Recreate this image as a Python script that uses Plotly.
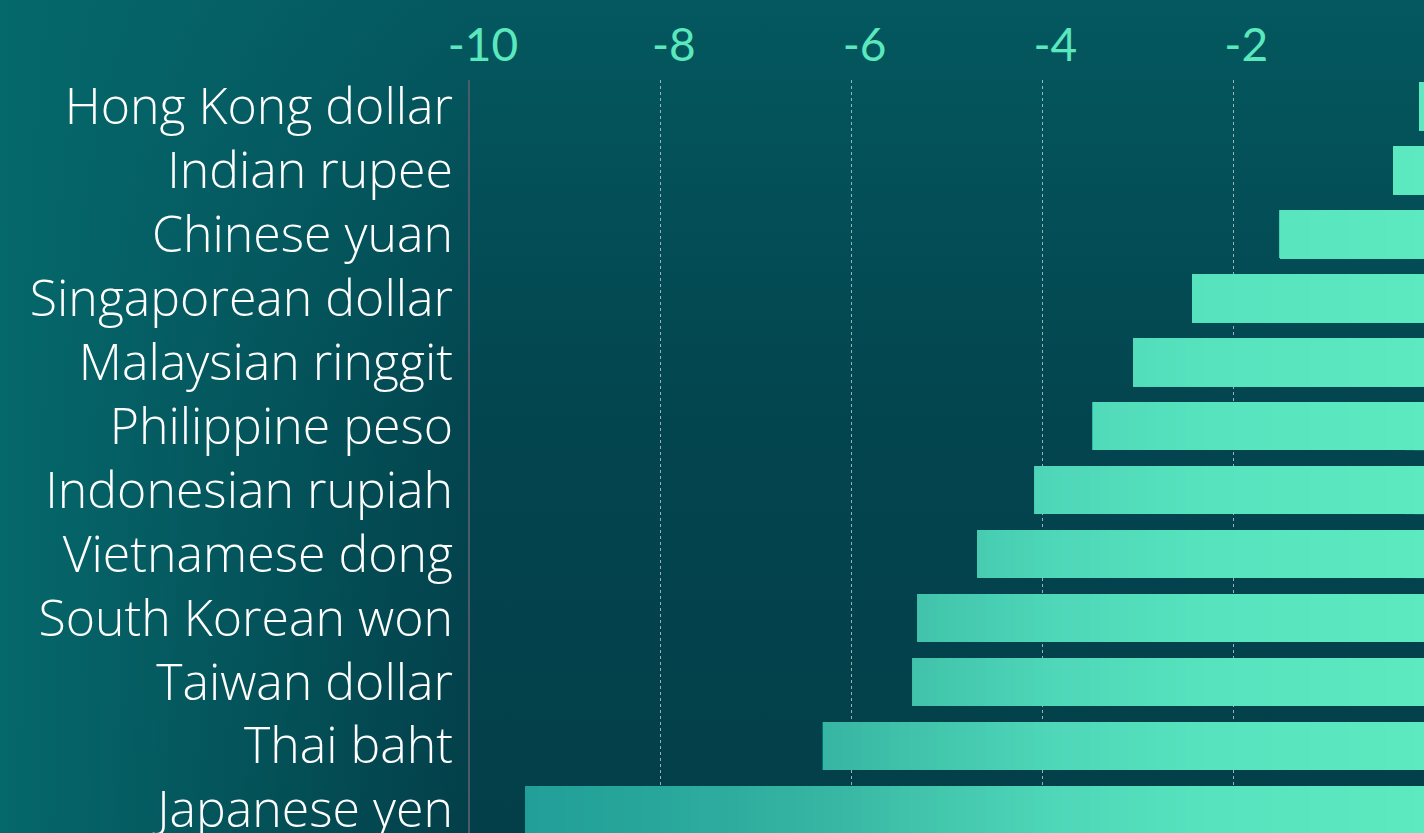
import base64
import plotly.graph_objects as go

# ---- data ----
currencies = ["Hong Kong dollar", "Indian rupee", "Chinese yuan", "Singaporean dollar",
              "Malaysian ringgit", "Philippine peso", "Indonesian rupiah", "Vietnamese dong",
              "South Korean won", "Taiwan dollar", "Thai baht", "Japanese yen"]
change_pct = [-0.05, -0.32, -1.51, -2.43, -3.05, -3.47, -4.08, -4.68, -5.31, -5.36, -6.30, -9.42]
tick_values = [-10, -8, -6, -4, -2]
tick_labels = ["-10", "-8", "-6", "-4", "-2"]

# ---- style ----
W, H = 1424, 833
ML, MR, MT, MB = 470, 0, 80, 0
PW, PH = W - ML - MR, H - MT - MB

# gradient colour stops by x position (value -> colour)
stops = [(-10.0, (30, 156, 151)), (-8.0, (40, 167, 156)), (-6.3, (55, 182, 163)),
         (-5.0, (68, 200, 174)), (-4.0, (78, 214, 184)), (-2.5, (86, 226, 189)),
         (0.0, (93, 234, 192))]


def colour_at(v):
    for (a, ca), (b, cb) in zip(stops[:-1], stops[1:]):
        if a <= v <= b:
            f = (v - a) / (b - a)
            c = [round(ca[i] + f * (cb[i] - ca[i])) for i in range(3)]
            return f"rgb({c[0]},{c[1]},{c[2]})"
    return "rgb(93,234,192)"


fig = go.Figure()
n_steps = 100
for k in range(n_steps):
    t = 10 - k * 10 / n_steps  # bar left edge limited to -t
    xs = [max(v, -t) for v in change_pct]
    fig.add_trace(go.Bar(
        y=currencies, x=xs, orientation="h",
        marker=dict(color=colour_at(-t), line=dict(width=0)),
        showlegend=False, hoverinfo="skip",
    ))

# background gradient as an inline svg
svg = f'''<svg xmlns="http://www.w3.org/2000/svg" width="{W}" height="{H}" viewBox="0 0 {W} {H}" preserveAspectRatio="none">
<defs>
<linearGradient id="v" x1="0" y1="0" x2="0" y2="1">
<stop offset="0" stop-color="#04585f"/><stop offset="0.5" stop-color="#03454f"/><stop offset="1" stop-color="#033f49"/>
</linearGradient>
<linearGradient id="h" x1="0" y1="0" x2="1" y2="0">
<stop offset="0" stop-color="#05686b" stop-opacity="1"/><stop offset="0.33" stop-color="#05686b" stop-opacity="0"/>
</linearGradient>
</defs>
<rect width="{W}" height="{H}" fill="url(#v)"/>
<rect width="{W}" height="{H}" fill="url(#h)"/>
</svg>'''
src = "data:image/svg+xml;base64," + base64.b64encode(svg.encode()).decode()

fig.update_layout(
    width=W, height=H,
    margin=dict(l=ML, r=MR, t=MT, b=MB, pad=0, autoexpand=False),
    barmode="overlay", bargap=0.25,
    paper_bgcolor="#03474f", plot_bgcolor="rgba(0,0,0,0)",
    images=[dict(source=src, xref="paper", yref="paper",
                 x=-ML / PW, y=1 + MT / PH, sizex=W / PW, sizey=H / PH,
                 xanchor="left", yanchor="top", sizing="stretch", layer="below")],
    xaxis=dict(range=[-10, 0], side="top", tickvals=tick_values, ticktext=tick_labels,
               showgrid=True, gridcolor="rgba(200,215,220,0.75)", griddash="dot", gridwidth=1,
               zeroline=False, showline=False, ticks="", automargin=False,
               tickfont=dict(family="Lato", size=46, color="#5ce8bd"),
               ticklabelshift=13, ticklabelstandoff=9),
    yaxis=dict(range=[11.36, -0.41], showgrid=False, zeroline=False, automargin=False,
               showline=True, linecolor="#4e5a68", linewidth=2, ticks="",
               tickfont=dict(family="Open Sans", size=50, color="#ffffff", weight=300),
               ticklabelstandoff=5),
)

fig.write_html("out.html")
